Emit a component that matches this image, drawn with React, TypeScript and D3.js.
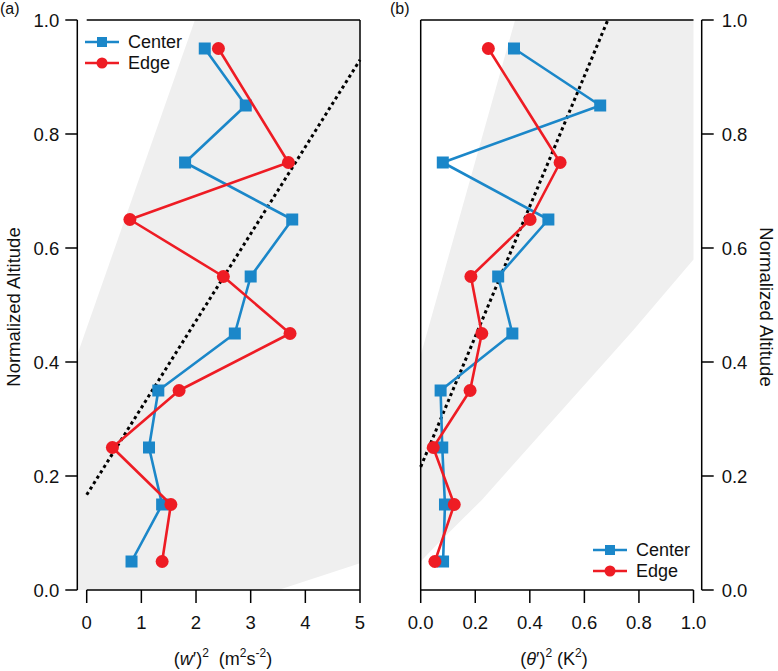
import * as d3 from "d3";

// normalized altitude levels shared by both panels
const altitude = [0.05, 0.15, 0.25, 0.35, 0.45, 0.55, 0.65, 0.75, 0.85, 0.95];

// (a) vertical velocity variance, m2 s-2
const wCenter = [0.82, 1.38, 1.14, 1.31, 2.71, 3.0, 3.76, 1.8, 2.91, 2.16];
const wEdge = [1.38, 1.54, 0.47, 1.69, 3.72, 2.5, 0.79, 3.69, null, 2.41];

// (b) potential temperature variance, K2
const thCenter = [0.082, 0.089, 0.079, 0.073, 0.336, 0.284, 0.468, 0.081, 0.658, 0.342];
const thEdge = [0.052, 0.123, 0.046, 0.181, 0.224, 0.184, 0.401, 0.511, null, 0.248];

// dotted reference lines [x, altitude]
const fitA: [number, number][] = [[0, 0.167], [5, 0.93]];
const fitB: [number, number][] = [[0, 0.216], [0.686, 1.0]];

// grey envelope outlines [x, altitude]
const shadeA: [number, number][] = [
  [-0.175, 0], [-0.175, 0.412], [1.98, 1], [5, 1], [5, 0.047], [3.505, 0],
];
const shadeB: [number, number][] = [
  [0, 0.05], [0, 0.412], [0.346, 1], [1, 1], [1, 0.58], [0.78, 0.456],
  [0.224, 0.158], [0.064, 0.082],
];

const ticksA = [0, 1, 2, 3, 4, 5];
const ticksB = [0, 0.2, 0.4, 0.6, 0.8, 1.0];
const ticksY = [0, 0.2, 0.4, 0.6, 0.8, 1.0];

const BLUE = "#1b87c9";
const RED = "#ee1c24";
const FONT = "Arial, 'Liberation Sans', Helvetica, sans-serif";

const y = d3.scaleLinear().domain([0, 1]).range([590, 20]);
const xa = d3.scaleLinear().domain([0, 5]).range([86.7, 360]);
const xb = d3.scaleLinear().domain([0, 1]).range([420.7, 693.5]);

function pairs(xs: (number | null)[]) {
  return xs
    .map((v, i) => (v == null ? null : ([v, altitude[i]] as [number, number])))
    .filter((p): p is [number, number] => p != null);
}

function Profile({ x, values, color, kind }: {
  x: d3.ScaleLinear<number, number>;
  values: (number | null)[];
  color: string;
  kind: "square" | "circle";
}) {
  const pts = pairs(values);
  const line = d3.line<[number, number]>().x((d) => x(d[0])).y((d) => y(d[1]));
  return (
    <g>
      <path d={line(pts) || ""} fill="none" stroke={color} strokeWidth={2.6} strokeLinejoin="round" />
      {pts.map((d, i) =>
        kind === "square" ? (
          <rect key={i} x={x(d[0]) - 6} y={y(d[1]) - 6} width={12} height={12} fill={color} />
        ) : (
          <circle key={i} cx={x(d[0])} cy={y(d[1])} r={6.5} fill={color} />
        )
      )}
    </g>
  );
}

function Legend({ x0, y0 }: { x0: number; y0: number }) {
  const rows = [
    { label: "Center", color: BLUE, kind: "square" },
    { label: "Edge", color: RED, kind: "circle" },
  ];
  return (
    <g fontFamily={FONT} fontSize={18}>
      {rows.map((r, i) => {
        const cy = y0 + i * 21;
        return (
          <g key={r.label}>
            <line x1={x0} x2={x0 + 34} y1={cy} y2={cy} stroke={r.color} strokeWidth={2.6} />
            {r.kind === "square" ? (
              <rect x={x0 + 12} y={cy - 5} width={10} height={10} fill={r.color} />
            ) : (
              <circle cx={x0 + 17} cy={cy} r={5.5} fill={r.color} />
            )}
            <text x={x0 + 43} y={cy} dy="0.36em" fill="#111">{r.label}</text>
          </g>
        );
      })}
    </g>
  );
}

export default function App() {
  const area = d3.line<[number, number]>().x((d) => d[0]).y((d) => d[1]);
  const polyA = area(shadeA.map((d) => [xa(d[0]), y(d[1])])) + "Z";
  const polyB = area(shadeB.map((d) => [xb(d[0]), y(d[1])])) + "Z";
  const fitLine = (x: d3.ScaleLinear<number, number>, f: [number, number][]) =>
    area(f.map((d) => [x(d[0]), y(d[1])])) || "";

  const axisX = 77.3;
  const axisRight = 701.7;

  return (
    <div style={{ position: "absolute", left: 0, top: 0, background: "#fff" }}>
      <svg width={778} height={671} style={{ display: "block" }}>
        <rect width={778} height={671} fill="#fff" />

        {/* shaded envelopes */}
        <path d={polyA} fill="#efefef" />
        <path d={polyB} fill="#efefef" />

        {/* dotted reference lines */}
        <path d={fitLine(xa, fitA)} stroke="#000" strokeWidth={3} strokeDasharray="3.2,3.2" fill="none" />
        <path d={fitLine(xb, fitB)} stroke="#000" strokeWidth={3} strokeDasharray="3.2,3.2" fill="none" />

        {/* profiles */}
        <Profile x={xa} values={wCenter} color={BLUE} kind="square" />
        <Profile x={xa} values={wEdge} color={RED} kind="circle" />
        <Profile x={xb} values={thCenter} color={BLUE} kind="square" />
        <Profile x={xb} values={thEdge} color={RED} kind="circle" />

        <g stroke="#000" strokeWidth={1.5} fill="none">
          {/* panel a frame and axes */}
          <line x1={axisX} x2={axisX} y1={y(1)} y2={y(0)} />
          <line x1={xa(0)} x2={xa(5)} y1={y(1)} y2={y(1)} />
          <line x1={xa(5)} x2={xa(5)} y1={y(1)} y2={y(0)} />
          <line x1={xa(0)} x2={xa(5)} y1={y(0)} y2={y(0)} />
          {ticksY.map((t) => (
            <line key={"ya" + t} x1={axisX - 12} x2={axisX} y1={y(t)} y2={y(t)} />
          ))}
          {ticksA.map((t) => (
            <line key={"xa" + t} x1={xa(t)} x2={xa(t)} y1={y(0)} y2={y(0) + 13} />
          ))}
          {/* panel b frame and axes */}
          <line x1={xb(0)} x2={xb(0)} y1={y(1)} y2={y(0)} />
          <line x1={xb(0)} x2={xb(1)} y1={y(1)} y2={y(1)} />
          <line x1={xb(0)} x2={xb(1)} y1={y(0)} y2={y(0)} />
          <line x1={axisRight} x2={axisRight} y1={y(1)} y2={y(0)} />
          {ticksY.map((t) => (
            <line key={"yb" + t} x1={axisRight} x2={axisRight + 12} y1={y(t)} y2={y(t)} />
          ))}
          {ticksB.map((t) => (
            <line key={"xb" + t} x1={xb(t)} x2={xb(t)} y1={y(0)} y2={y(0) + 13} />
          ))}
        </g>

        <g fontFamily={FONT} fontSize={18.5} fill="#111">
          {ticksY.map((t) => (
            <text key={"la" + t} x={axisX - 18} y={y(t)} dy="0.36em" textAnchor="end">
              {d3.format(".1f")(t)}
            </text>
          ))}
          {ticksY.map((t) => (
            <text key={"lb" + t} x={axisRight + 20} y={y(t)} dy="0.36em" textAnchor="start">
              {d3.format(".1f")(t)}
            </text>
          ))}
          {ticksA.map((t) => (
            <text key={"ta" + t} x={xa(t)} y={622} dy="0.36em" textAnchor="middle">
              {d3.format("d")(t)}
            </text>
          ))}
          {ticksB.map((t) => (
            <text key={"tb" + t} x={xb(t)} y={622} dy="0.36em" textAnchor="middle">
              {d3.format(".1f")(t)}
            </text>
          ))}

          {/* axis titles */}
          <text transform="translate(20,307) rotate(-90)" textAnchor="middle" fontSize={18.5}>
            Normalized Altitude
          </text>
          <text transform="translate(760,307) rotate(90)" textAnchor="middle" fontSize={18.5}>
            Normalized Altitude
          </text>
          <text x={223} y={665} textAnchor="middle" fontSize={18}>
            (<tspan fontStyle="italic">w</tspan>′)
            <tspan dy={-8} fontSize={12}>2</tspan>
            <tspan dy={8}>{"\u00a0\u00a0"}(m</tspan>
            <tspan dy={-8} fontSize={12}>2</tspan>
            <tspan dy={8}>s</tspan>
            <tspan dy={-8} fontSize={12}>-2</tspan>
            <tspan dy={8}>)</tspan>
          </text>
          <text x={554} y={665} textAnchor="middle" fontSize={18}>
            (<tspan fontStyle="italic">θ</tspan>′)
            <tspan dy={-8} fontSize={12}>2</tspan>
            <tspan dy={8}>{"\u00a0"}(K</tspan>
            <tspan dy={-8} fontSize={12}>2</tspan>
            <tspan dy={8}>)</tspan>
          </text>

          {/* panel labels */}
          <text x={0} y={14} fontSize={16}>(a)</text>
          <text x={390} y={14} fontSize={16}>(b)</text>
        </g>

        <Legend x0={85} y0={42} />
        <Legend x0={593} y0={550} />
      </svg>
    </div>
  );
}
